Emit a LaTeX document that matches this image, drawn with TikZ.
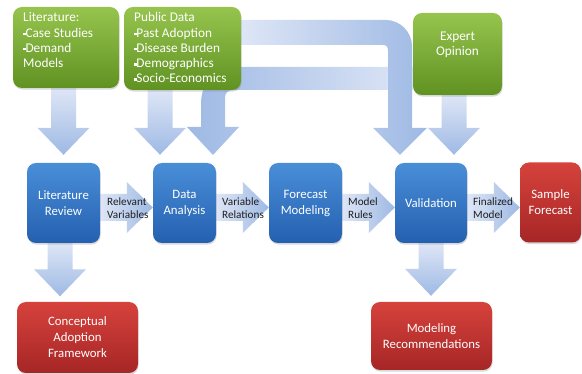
\documentclass[tikz,border=0pt]{standalone}
\usepackage{fontspec}
\setmainfont{Carlito}
\usetikzlibrary{calc,shadows}
\definecolor{gtop}{RGB}{150,196,78}
\definecolor{gbot}{RGB}{96,146,34}
\definecolor{btop}{RGB}{74,142,216}
\definecolor{bbot}{RGB}{36,96,176}
\definecolor{rtop}{RGB}{214,66,60}
\definecolor{rbot}{RGB}{166,38,38}
\definecolor{alight}{RGB}{222,230,246}
\definecolor{amid}{RGB}{158,185,228}
\definecolor{lblcol}{RGB}{30,30,30}
\pgfdeclarelayer{bg}
\pgfsetlayers{bg,main}
\newcommand\bul{\raisebox{0.32ex}{\rule{2.3pt}{2.3pt}}}
\newcommand\hblk[2]{%
 \path[harr] ($(#1)+(0,-13.5)$) -- ($(#2)+(-26,-13.5)$) -- ($(#2)+(-26,-25.5)$) -- (#2) -- ($(#2)+(-26,25.5)$) -- ($(#2)+(-26,13.5)$) -- ($(#1)+(0,13.5)$) -- cycle;}
\newcommand\vblk[2]{%
 \path[varr] ($(#1)+(-12.5,0)$) -- ($(#2)+(-12.5,-27)$) -- ($(#2)+(-26,-27)$) -- (#2) -- ($(#2)+(26,-27)$) -- ($(#2)+(12.5,-27)$) -- ($(#1)+(12.5,0)$) -- cycle;}
\begin{document}
\begin{tikzpicture}[x=1pt,y=-1pt,
 boxbase/.style={rounded corners=9pt, inner sep=2pt, align=center, text=white,
   font=\fontsize{12.8}{16}\selectfont,
   drop shadow={shadow xshift=0.6pt, shadow yshift=-1.6pt, opacity=0.3}},
 greenbox/.style={boxbase, top color=gtop, bottom color=gbot},
 bluebox/.style={boxbase, top color=btop, bottom color=bbot},
 redbox/.style={boxbase, top color=rtop, bottom color=rbot},
 harr/.style={left color=alight, right color=amid},
 varr/.style={top color=alight, bottom color=amid},
 uarr/.style={left color=alight, right color=amid},
 larr/.style={left color=amid, right color=alight},
 lbl/.style={anchor=west, align=left, text=lblcol, font=\fontsize{11.2}{13}\selectfont, inner sep=0pt},
 gtext/.style={anchor=north west, align=left, text=white, font=\fontsize{13.3}{15.2}\selectfont, inner sep=0pt},
]
\useasboundingbox (0,0) rectangle (582,374);
% top green boxes
\node[greenbox, minimum width=106pt, minimum height=81pt] (lit) at (66,47.5) {};
\node[gtext] (littext) at (23,12.5) {Literature:\\\bul Case Studies\\\bul Demand\\Models};
\node[greenbox, minimum width=117pt, minimum height=83pt] (pd) at (182.5,48.5) {};
\node[gtext] (pdtext) at (134,12.5) {Public Data\\\bul Past Adoption\\\bul Disease Burden\\\bul Demographics\\\bul Socio-Economics};
\node[greenbox, minimum width=89pt, minimum height=82pt] (eo) at (457.5,54) {};
\node[gtext, anchor=north, align=center] (eotext) at (457.5,31.5) {Expert\\Opinion};
% blue row
\node[bluebox, minimum width=73pt, minimum height=80pt] (lr) at (63.5,203) {Literature\\Review};
\node[bluebox, minimum width=63pt, minimum height=80pt] (da) at (184.5,203) {Data\\Analysis};
\node[bluebox, minimum width=73pt, minimum height=80pt] (fm) at (305.5,203) {Forecast\\Modeling};
\node[bluebox, minimum width=72pt, minimum height=80pt] (va) at (431,203) {Validation};
\node[redbox, minimum width=61pt, minimum height=80pt] (sf) at (550.5,202.5) {Sample\\Forecast};
% bottom red
\node[redbox, minimum width=121pt, minimum height=71pt] (caf) at (77.5,337.5) {Conceptual\\Adoption\\Framework};
\node[redbox, minimum width=121pt, minimum height=68pt] (mr) at (431.5,336) {Modeling\\Recommendations};
% arrows
\begin{pgfonlayer}{bg}
 % horizontal
 \coordinate (a1s) at (lr.east |- 0,207.5); \coordinate (a1e) at (da.west |- 0,207.5);
 \coordinate (a2s) at (da.east |- 0,207.5); \coordinate (a2e) at (fm.west |- 0,207.5);
 \coordinate (a3s) at (fm.east |- 0,207.5); \coordinate (a3e) at (va.west |- 0,207.5);
 \coordinate (a4s) at (va.east |- 0,207.5); \coordinate (a4e) at (sf.west |- 0,207.5);
 \hblk{a1s}{a1e}
 \hblk{a2s}{a2e}
 \hblk{a3s}{a3e}
 \hblk{a4s}{a4e}
 % vertical
 \coordinate (d1s) at (lr.north |- lit.south); \coordinate (d1e) at ($(lr.north)+(0,-8)$);
 \coordinate (d2s) at (160,0 |- pd.south); \coordinate (d2x) at (160,0 |- da.north); \coordinate (d2e) at ($(d2x)+(0,-8)$);
 \coordinate (d3s) at (454,0 |- eo.south); \coordinate (d3x) at (454,0 |- va.north); \coordinate (d3e) at ($(d3x)+(0,-8)$);
 \coordinate (d4s) at (60,0 |- lr.south); \coordinate (d4x) at (60,0 |- caf.north); \coordinate (d4e) at ($(d4x)+(0,-5.5)$);
 \coordinate (d5s) at (431,0 |- va.south); \coordinate (d5x) at (431,0 |- mr.north); \coordinate (d5e) at ($(d5x)+(0,-6)$);
 \vblk{d1s}{d1e}
 \vblk{d2s}{d2e}
 \vblk{d3s}{d3e}
 \vblk{d4s}{d4e}
 \vblk{d5s}{d5e}
 % bent arrow: expert opinion -> data analysis
 \path[larr] (eo.west |- 0,67) -- (236,67) .. controls (215,67) and (201,82) .. (201,104) -- (201,127) -- (187,127) -- (213,155) -- (239,127) -- (225,127) -- (225,98) .. controls (225,93) and (228,90) .. (233,90) -- (eo.west |- 0,90) -- cycle;
 % bent arrow: public data -> validation
 \path[uarr] (pd.east |- 0,20) -- (386,20) .. controls (400,20) and (412,32) .. (412,46) -- (412,128) -- (427,128) -- (400,155) -- (373,128) -- (388,128) -- (388,51) .. controls (388,47.5) and (387,45) .. (383,45) -- (pd.east |- 0,45) -- cycle;
\end{pgfonlayer}
% arrow labels
\node[lbl] (l1) at (107,208.5) {Relevant\\Variables};
\node[lbl] (l2) at (222,208.5) {Variable\\Relations};
\node[lbl] (l3) at (348,208.5) {Model\\Rules};
\node[lbl] (l4) at (473,208.5) {Finalized\\Model};
\end{tikzpicture}
\end{document}
